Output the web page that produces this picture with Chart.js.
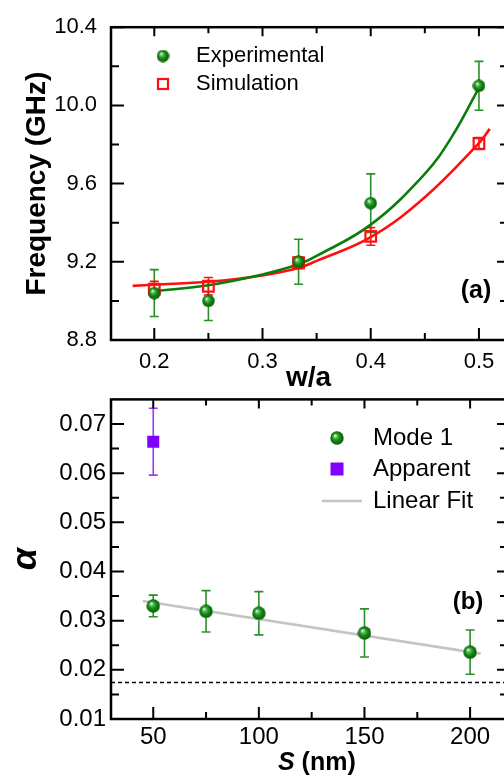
<!DOCTYPE html>
<html>
<head>
<meta charset="utf-8">
<script src="https://cdn.jsdelivr.net/npm/chart.js@4.4.0/dist/chart.umd.min.js"></script>
<style>
html, body { margin: 0; padding: 0; background: #fff; overflow: hidden; width: 504px; height: 775px; }
.panel { position: absolute; left: 0; width: 520px; }
#wrapA { top: 0; height: 400px; }
#wrapB { top: 380px; height: 395px; }
</style>
</head>
<body>
<div class="panel" id="wrapA"><canvas id="chartA" width="520" height="400"></canvas></div>
<div class="panel" id="wrapB"><canvas id="chartB" width="520" height="395"></canvas></div>
<script>
// ---- panel (a) data ----
const waValues = [0.2, 0.25, 1 / 3, 0.4, 0.5]
const expFreq = [9.04, 9.0, 9.2, 9.5, 10.1]
const expFreqErr = [0.12, 0.1, 0.115, 0.15, 0.125]
const simFreq = [9.06, 9.075, 9.195, 9.33, 9.805]
const simFreqErr = [0.04, 0.045, 0.03, 0.045, 0.03]
const expFitX = [0.2, 0.25, 0.3, 1 / 3, 0.35, 0.4, 0.45, 0.475, 0.5]
const expFitY = [9.05, 9.08, 9.135, 9.187, 9.23, 9.39, 9.65, 9.84, 10.09]
const simFitX = [0.18, 0.2, 0.25, 0.3, 1 / 3, 0.35, 0.4, 0.45, 0.5, 0.51]
const simFitY = [9.077, 9.083, 9.098, 9.13, 9.168, 9.205, 9.326, 9.53, 9.807, 9.88]
const waTicks = [0.2, 0.3, 0.4, 0.5]
const waMinor = [0.25, 0.35, 0.45]
const freqTicks = [8.8, 9.2, 9.6, 10.0, 10.4]
const freqMinor = [9.0, 9.4, 9.8, 10.2]

// ---- panel (b) data ----
const sValues = [50, 75, 100, 150, 200]
const mode1Alpha = [0.033, 0.0319, 0.0315, 0.0275, 0.0236]
const mode1Err = [0.0022, 0.0042, 0.0044, 0.0049, 0.0045]
const apparentS = [50]
const apparentAlpha = [0.0664]
const apparentErr = [0.0068]
const fitS = [45, 205]
const fitAlpha = [0.034, 0.0233]
const dampingLevel = 0.0174
const sTicks = [50, 100, 150, 200]
const sMinor = [75, 125, 175]
const alphaTicks = [0.01, 0.02, 0.03, 0.04, 0.05, 0.06, 0.07]
const alphaMinor = [0.015, 0.025, 0.035, 0.045, 0.055, 0.065]

Chart.defaults.font.family = '"Liberation Sans", Arial, Helvetica, sans-serif'
Chart.defaults.color = '#000'

const GREEN = '#0b7d0b'
const GREEN_BAR = '#2a8f2a'
const RED = '#ff1010'
const PURPLE = '#8000ff'

function makeSphere(d) {
	const c = document.createElement('canvas')
	c.width = d
	c.height = d
	const g = c.getContext('2d')
	const r = d / 2
	const grad = g.createRadialGradient(r - r * 0.3, r - r * 0.35, 0.3, r, r, r)
	grad.addColorStop(0, '#f2fff2')
	grad.addColorStop(0.22, '#5fbf5f')
	grad.addColorStop(0.55, '#138a13')
	grad.addColorStop(1, '#065806')
	g.fillStyle = grad
	g.beginPath()
	g.arc(r, r, r - 0.3, 0, Math.PI * 2)
	g.fill()
	return c
}
const sphereA = makeSphere(13)
const sphereB = makeSphere(14)

const pts = (xs, ys) => xs.map((x, i) => ({x: x, y: ys[i]}))

// error bars, frame with inward ticks, legend and panel label
const decorPlugin = {
	id: 'decor',
	beforeDatasetsDraw(chart) {
		const ctx = chart.ctx
		const ys = chart.scales.y
		chart.data.datasets.forEach((ds, i) => {
			if (!ds.errors) return
			const meta = chart.getDatasetMeta(i)
			ctx.save()
			ctx.strokeStyle = ds.errorColor
			ctx.lineWidth = 1.6
			meta.data.forEach((p, j) => {
				const v = ds.data[j].y
				const e = ds.errors[j]
				const y1 = ys.getPixelForValue(v + e)
				const y2 = ys.getPixelForValue(v - e)
				ctx.beginPath()
				ctx.moveTo(p.x, y1)
				ctx.lineTo(p.x, y2)
				ctx.moveTo(p.x - 4.5, y1)
				ctx.lineTo(p.x + 4.5, y1)
				ctx.moveTo(p.x - 4.5, y2)
				ctx.lineTo(p.x + 4.5, y2)
				ctx.stroke()
			})
			ctx.restore()
		})
	},
	afterDraw(chart, args, opts) {
		const ctx = chart.ctx
		const {left, right, top, bottom} = chart.chartArea
		const xs = chart.scales.x
		const ys = chart.scales.y
		ctx.save()
		ctx.strokeStyle = '#000'
		ctx.lineWidth = 2.5
		ctx.strokeRect(left, top, right - left, bottom - top)
		ctx.lineWidth = 2
		ctx.beginPath()
		const tick = (vals, len, inner) => {
			vals.forEach(v => {
				const px = xs.getPixelForValue(v)
				ctx.moveTo(px, bottom); ctx.lineTo(px, bottom - len)
				ctx.moveTo(px, top); ctx.lineTo(px, top + inner)
			})
		}
		const tickY = (vals, len, inner) => {
			vals.forEach(v => {
				const py = ys.getPixelForValue(v)
				ctx.moveTo(left, py); ctx.lineTo(left + len, py)
				ctx.moveTo(right, py); ctx.lineTo(right - inner, py)
			})
		}
		tick(opts.xMajor, 12, 9)
		tick(opts.xMinor, 7, 6)
		tickY(opts.yMajor, 13, 9)
		tickY(opts.yMinor, 8, 6)
		ctx.stroke()

		// legend
		ctx.textBaseline = 'middle'
		ctx.textAlign = 'left'
		ctx.fillStyle = '#000'
		ctx.font = opts.legendFont
		opts.legend.forEach(item => {
			if (item.kind === 'sphere') {
				ctx.drawImage(item.img, item.mx - item.img.width / 2, item.y - item.img.height / 2)
			} else if (item.kind === 'open') {
				ctx.strokeStyle = item.color
				ctx.lineWidth = 2.2
				ctx.strokeRect(item.mx - 5, item.y - 5, 10, 10)
			} else if (item.kind === 'filled') {
				ctx.fillStyle = item.color
				ctx.fillRect(item.mx - 6.5, item.y - 6.5, 13, 13)
			} else if (item.kind === 'line') {
				ctx.strokeStyle = item.color
				ctx.lineWidth = 2.5
				ctx.beginPath()
				ctx.moveTo(item.mx - 20, item.y)
				ctx.lineTo(item.mx + 20, item.y)
				ctx.stroke()
			}
			ctx.fillStyle = '#000'
			ctx.fillText(item.text, opts.legendTextX, item.y)
		})

		// panel label
		ctx.font = opts.tagFont
		ctx.textAlign = 'center'
		ctx.fillText(opts.tag, opts.tagX, opts.tagY)

		// custom x title with an italic symbol
		if (opts.xTitle) {
			ctx.textAlign = 'left'
			ctx.textBaseline = 'alphabetic'
			ctx.font = 'italic bold 25px "Liberation Sans", Arial, sans-serif'
			ctx.fillText(opts.xTitle[0], opts.xTitleX, opts.xTitleY)
			const w = ctx.measureText(opts.xTitle[0]).width
			ctx.font = 'bold 25px "Liberation Sans", Arial, sans-serif'
			ctx.fillText(opts.xTitle[1], opts.xTitleX + w, opts.xTitleY)
		}
		ctx.restore()
	},
}

const chartA = new Chart(document.getElementById('chartA'), {
	type: 'scatter',
	data: {
		datasets: [
			{
				label: 'Experimental',
				data: pts(waValues, expFreq),
				errors: expFreqErr,
				errorColor: GREEN_BAR,
				pointStyle: sphereA,
			},
			{
				label: 'Simulation',
				data: pts(waValues, simFreq),
				errors: simFreqErr,
				errorColor: RED,
				pointStyle: 'rect',
				pointRadius: 7.5,
				borderColor: RED,
				borderWidth: 2.2,
				backgroundColor: 'rgba(255,255,255,0)',
			},
			{
				label: 'Exp fit',
				data: pts(expFitX, expFitY),
				showLine: true,
				tension: 0.4,
				pointRadius: 0,
				borderColor: GREEN,
				borderWidth: 2.6,
			},
			{
				label: 'Sim fit',
				data: pts(simFitX, simFitY),
				showLine: true,
				tension: 0.4,
				pointRadius: 0,
				borderColor: RED,
				borderWidth: 2.6,
			},
		],
	},
	options: {
		responsive: false,
		animation: false,
		layout: {padding: {left: 0, top: 16, right: 14, bottom: 0}},
		plugins: {
			legend: {display: false},
			tooltip: {enabled: false},
			decor: {
				xMajor: waTicks, xMinor: waMinor, yMajor: freqTicks, yMinor: freqMinor,
				legendFont: '22px "Liberation Sans", Arial, sans-serif',
				legendTextX: 196,
				legend: [
					{kind: 'sphere', img: sphereA, mx: 163, y: 56, text: 'Experimental'},
					{kind: 'open', color: RED, mx: 163, y: 84, text: 'Simulation'},
				],
				tag: '(a)', tagX: 476, tagY: 291,
				tagFont: 'bold 25px "Liberation Sans", Arial, sans-serif',
			},
		},
		scales: {
			x: {
				type: 'linear', min: 0.16, max: 0.525,
				afterBuildTicks: s => { s.ticks = waTicks.map(v => ({value: v})) },
				afterFit: s => { s.height = 60 },
				grid: {display: false, drawTicks: false},
				border: {display: false},
				ticks: {font: {size: 22}, padding: 9, maxRotation: 0, autoSkip: false, callback: v => v.toFixed(1)},
				title: {display: true, text: 'w/a', font: {size: 28, weight: 'bold'}, padding: {top: 0, bottom: 5}},
			},
			y: {
				min: 8.8, max: 10.4,
				afterBuildTicks: s => { s.ticks = freqTicks.map(v => ({value: v})) },
				afterFit: s => { s.width = 111 },
				grid: {display: false, drawTicks: false},
				border: {display: false},
				ticks: {font: {size: 22}, padding: 14, callback: v => v.toFixed(1)},
				title: {display: true, text: 'Frequency (GHz)', font: {size: 28, weight: 'bold'}, padding: {top: 20, bottom: 0}},
			},
		},
	},
	plugins: [decorPlugin],
})

const chartB = new Chart(document.getElementById('chartB'), {
	type: 'scatter',
	data: {
		datasets: [
			{
				label: 'Mode 1',
				data: pts(sValues, mode1Alpha),
				errors: mode1Err,
				errorColor: GREEN_BAR,
				pointStyle: sphereB,
			},
			{
				label: 'Apparent',
				data: pts(apparentS, apparentAlpha),
				errors: apparentErr,
				errorColor: '#9a3cff',
				pointStyle: 'rect',
				pointRadius: 8.5,
				borderWidth: 0,
				backgroundColor: PURPLE,
			},
			{
				label: 'Linear Fit',
				data: pts(fitS, fitAlpha),
				showLine: true,
				pointRadius: 0,
				borderColor: '#c4c4c4',
				borderWidth: 2.6,
			},
			{
				label: 'level',
				data: pts([30, 217], [dampingLevel, dampingLevel]),
				showLine: true,
				pointRadius: 0,
				borderColor: '#000',
				borderWidth: 1.5,
				borderDash: [4, 3],
			},
		],
	},
	options: {
		responsive: false,
		animation: false,
		layout: {padding: {left: 0, top: 17, right: 14, bottom: 0}},
		plugins: {
			legend: {display: false},
			tooltip: {enabled: false},
			decor: {
				xMajor: sTicks, xMinor: sMinor, yMajor: alphaTicks, yMinor: alphaMinor,
				legendFont: '24px "Liberation Sans", Arial, sans-serif',
				legendTextX: 373,
				legend: [
					{kind: 'sphere', img: sphereB, mx: 337, y: 58, text: 'Mode 1'},
					{kind: 'filled', color: PURPLE, mx: 337, y: 89, text: 'Apparent'},
					{kind: 'line', color: '#c4c4c4', mx: 342, y: 121, text: 'Linear Fit'},
				],
				tag: '(b)', tagX: 468, tagY: 222,
				tagFont: 'bold 24px "Liberation Sans", Arial, sans-serif',
				xTitle: ['S', ' (nm)'], xTitleX: 278, xTitleY: 390,
			},
		},
		scales: {
			x: {
				type: 'linear', min: 30, max: 217,
				afterBuildTicks: s => { s.ticks = sTicks.map(v => ({value: v})) },
				afterFit: s => { s.height = 56 },
				grid: {display: false, drawTicks: false},
				border: {display: false},
				ticks: {font: {size: 24}, padding: 4, maxRotation: 0, autoSkip: false, callback: v => String(v)},
			},
			y: {
				min: 0.01, max: 0.075,
				afterBuildTicks: s => { s.ticks = alphaTicks.map(v => ({value: v})) },
				afterFit: s => { s.width = 111 },
				grid: {display: false, drawTicks: false},
				border: {display: false},
				ticks: {font: {size: 24}, padding: 5, callback: v => v.toFixed(2)},
				title: {display: true, text: 'α', font: {size: 36, weight: 'bold', style: 'italic'}, padding: {top: 4, bottom: 0}},
			},
		},
	},
	plugins: [decorPlugin],
})
</script>
</body>
</html>
